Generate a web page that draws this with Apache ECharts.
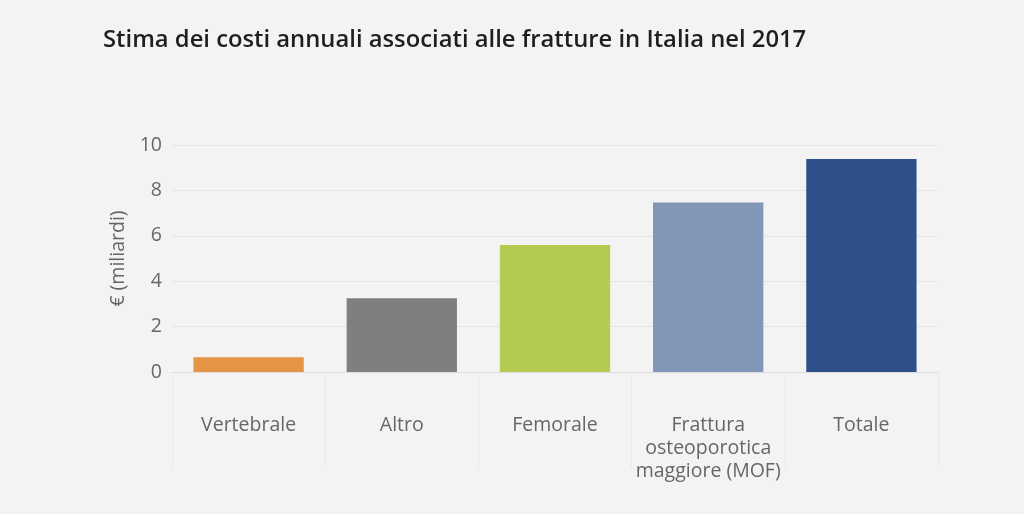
<!DOCTYPE html>
<html><head><meta charset="utf-8">
<script src="https://cdn.jsdelivr.net/npm/echarts@6/dist/echarts.min.js"></script>
<style>html,body{margin:0;padding:0;background:#f3f3f3;}#c{width:1024px;height:514px;}</style>
</head><body><div id="c"></div>
<script>
const categories = ['Vertebrale', 'Altro', 'Femorale', 'Frattura\nosteoporotica\nmaggiore (MOF)', 'Totale'];
const values = [0.65, 3.25, 5.6, 7.47, 9.38];
const colors = ['#e59344', '#7f7f7f', '#b3cb50', '#8296b8', '#2e4f8a'];
const yTicks = [0, 2, 4, 6, 8, 10];

const chart = echarts.init(document.getElementById('c'));
chart.setOption({
  backgroundColor: '#f3f3f3',
  textStyle: { fontFamily: 'Open Sans' },
  title: {
    text: 'Stima dei costi annuali associati alle fratture in Italia nel 2017',
    left: 98, top: 23,
    textStyle: { fontFamily: 'Open Sans', fontSize: 23.8, fontWeight: 600, color: '#1f1f1f' }
  },
  grid: { left: 172, right: 86, top: 145, bottom: 142, containLabel: false },
  xAxis: {
    type: 'category',
    data: categories,
    axisLine: { lineStyle: { color: '#dcdcdc' } },
    axisTick: { show: true, length: 96, lineStyle: { color: '#e8e8e8' } },
    axisLabel: { color: '#666', fontSize: 19.5, margin: 42, lineHeight: 23, verticalAlign: 'top', interval: 0 }
  },
  yAxis: {
    type: 'value', min: yTicks[0], max: yTicks[yTicks.length - 1], interval: 2,
    name: '€ (miliardi)', nameLocation: 'middle', nameGap: 44,
    nameTextStyle: { color: '#666', fontSize: 19.5 },
    axisLine: { show: false }, axisTick: { show: false },
    axisLabel: { color: '#666', fontSize: 19.5, margin: 10 },
    splitLine: { lineStyle: { color: '#e4e4e4' } }
  },
  series: [{
    type: 'bar',
    barWidth: '72%',
    data: values.map((v, i) => ({ value: v, itemStyle: { color: colors[i] } })),
    silent: true
  }],
  animation: false
});
</script></body></html>
